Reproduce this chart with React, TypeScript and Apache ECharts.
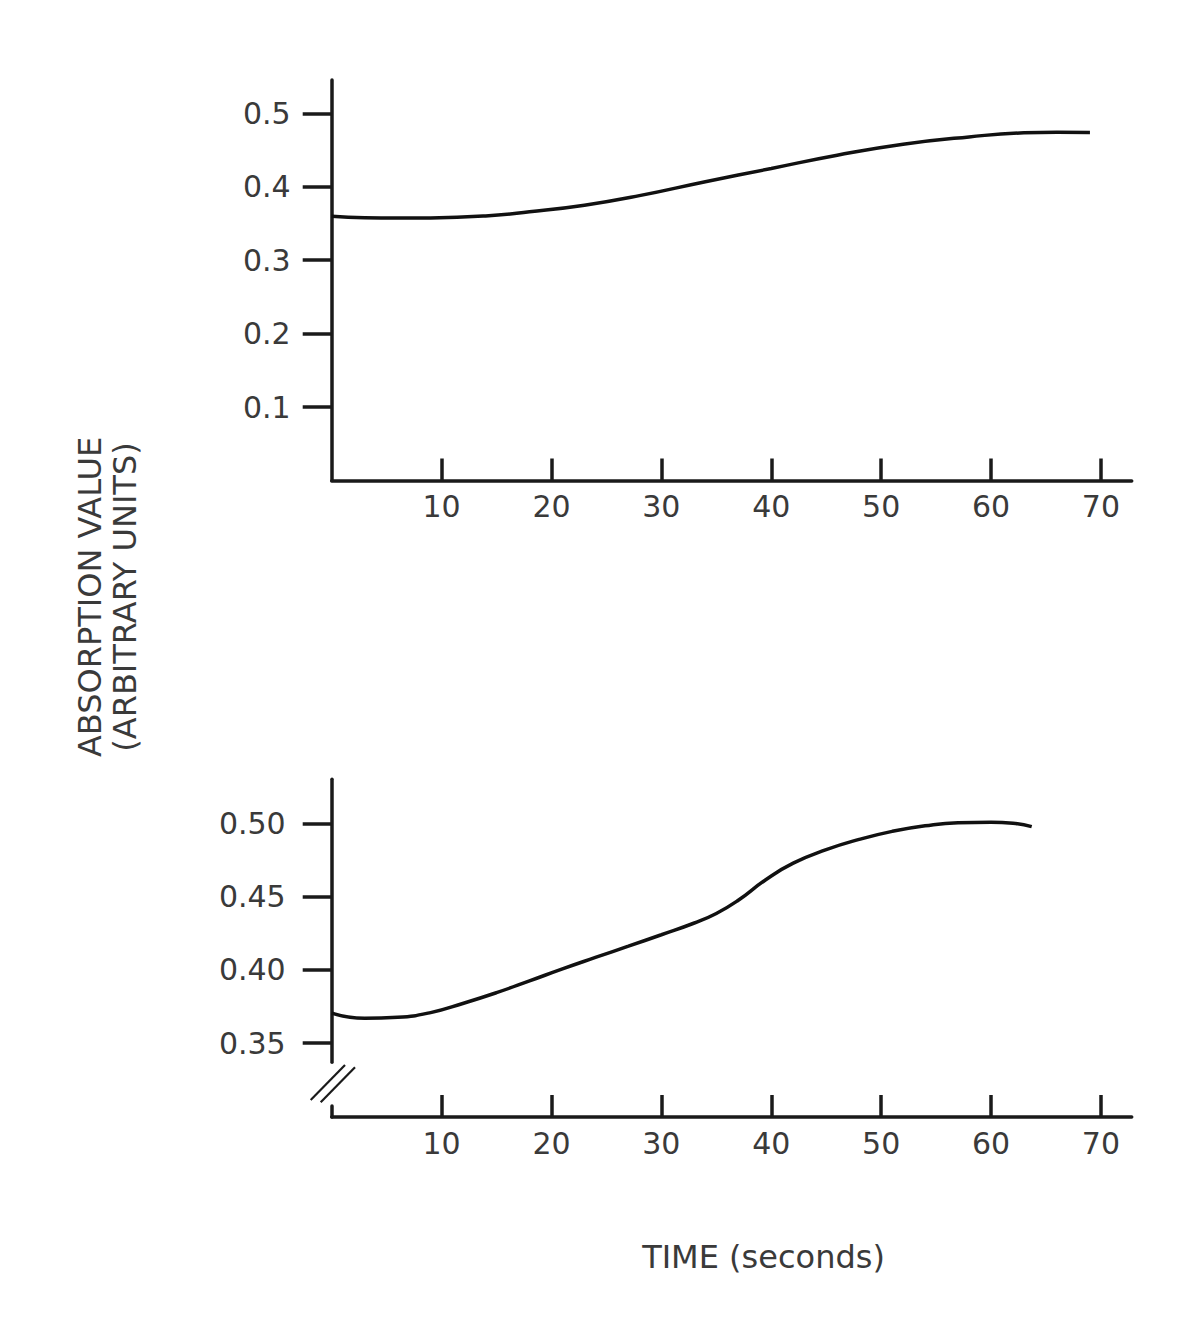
import React, { useEffect, useRef } from "react";
import * as echarts from "echarts";

const xTicks = [10, 20, 30, 40, 50, 60, 70];
const topYTicks = [0.1, 0.2, 0.3, 0.4, 0.5];
const bottomYTicks = [0.35, 0.4, 0.45, 0.5];

const topTime = [0, 3, 6, 9, 14, 18, 23, 28, 34, 40, 46, 52, 58, 63, 66, 69];
const topValue = [0.36, 0.3578, 0.3575, 0.3577, 0.3604, 0.366, 0.375, 0.388, 0.407, 0.425, 0.443, 0.458, 0.468, 0.4735, 0.4742, 0.474];

const bottomTime = [0, 3, 6, 9, 12, 15, 18, 21, 24, 27, 30, 33, 35, 37, 39.5, 42, 45, 48, 51, 54, 57, 60, 62, 63.7];
const bottomValue = [0.3705, 0.367, 0.3677, 0.3709, 0.3773, 0.3845, 0.3925, 0.4007, 0.4085, 0.4162, 0.424, 0.432, 0.4385, 0.4475, 0.4615, 0.4728, 0.482, 0.489, 0.4945, 0.4983, 0.5004, 0.5007, 0.5, 0.4977];

const yTitle = "ABSORPTION VALUE\n(ARBITRARY UNITS)";
const xTitle = "TIME (seconds)";

const FONT = "DejaVu Sans";
const TEXT = "#3a3a3a";
const INK = "#1a1a1a";

export default function App() {
  const ref = useRef<HTMLDivElement>(null);
  useEffect(() => {
    if (!ref.current) return;
    const chart = echarts.init(ref.current, null, { renderer: "svg" });
    const xMin = 0;
    const xMax = 72.8;
    const axisLine = { show: true, lineStyle: { color: INK, width: 3.5 } };
    const xLabel = { show: true, customValues: xTicks, margin: 11, fontSize: 30, color: TEXT, fontFamily: FONT };
    const xTick = { show: true, customValues: xTicks, inside: true, length: 22, lineStyle: { color: INK, width: 3.5 } };

    const option: any = {
      animation: false,
      backgroundColor: "#ffffff",
      grid: [
        { left: 331.7, top: 80, width: 800, height: 400.5 },
        { left: 331.7, top: 779.3, width: 800, height: 283 },
        { left: 331.7, top: 1106, width: 800, height: 11 },
      ],
      xAxis: [
        { type: "value", gridIndex: 0, min: xMin, max: xMax, axisLine, axisTick: xTick, axisLabel: xLabel, splitLine: { show: false } },
        { type: "value", gridIndex: 1, min: xMin, max: xMax, show: false, splitLine: { show: false } },
        { type: "value", gridIndex: 2, min: xMin, max: xMax, axisLine, axisTick: xTick, axisLabel: xLabel, splitLine: { show: false } },
      ],
      yAxis: [
        {
          type: "value", gridIndex: 0, min: 0, max: 0.5455,
          axisLine,
          axisTick: { show: true, customValues: topYTicks, inside: false, length: 29, lineStyle: { color: INK, width: 3.5 } },
          axisLabel: { show: true, customValues: topYTicks, margin: 41, fontSize: 30, color: TEXT, fontFamily: FONT, formatter: (v: number) => v.toFixed(1) },
          splitLine: { show: false },
        },
        {
          type: "value", gridIndex: 1, min: 0.337, max: 0.53,
          axisLine,
          axisTick: { show: true, customValues: bottomYTicks, inside: false, length: 29, lineStyle: { color: INK, width: 3.5 } },
          axisLabel: { show: true, customValues: bottomYTicks, margin: 46, fontSize: 30, color: TEXT, fontFamily: FONT, formatter: (v: number) => v.toFixed(2) },
          splitLine: { show: false },
        },
        {
          type: "value", gridIndex: 2, min: 0, max: 1,
          axisLine,
          axisTick: { show: false },
          axisLabel: { show: false },
          splitLine: { show: false },
        },
      ],
      series: [
        {
          type: "line", xAxisIndex: 0, yAxisIndex: 0, smooth: 0.5, symbol: "none",
          lineStyle: { color: "#111111", width: 3.5 },
          data: topTime.map((t, i) => [t, topValue[i]]),
        },
        {
          type: "line", xAxisIndex: 1, yAxisIndex: 1, smooth: 0.5, symbol: "none",
          lineStyle: { color: "#111111", width: 3.5 },
          data: bottomTime.map((t, i) => [t, bottomValue[i]]),
        },
      ],
      graphic: [
        { type: "line", shape: { x1: 310.7, y1: 1100, x2: 345, y2: 1065 }, style: { stroke: INK, lineWidth: 2.2 } },
        { type: "line", shape: { x1: 320.7, y1: 1102.3, x2: 355, y2: 1067.3 }, style: { stroke: INK, lineWidth: 2.2 } },
        {
          type: "text", x: 107, y: 597, rotation: Math.PI / 2,
          style: { text: yTitle, align: "center", verticalAlign: "middle", fontSize: 32, lineHeight: 35, fontFamily: FONT, fill: TEXT },
        },
        {
          type: "text", x: 763.5, y: 1257,
          style: { text: xTitle, align: "center", verticalAlign: "middle", fontSize: 32, fontFamily: FONT, fill: TEXT },
        },
      ],
    };
    chart.setOption(option);
    return () => chart.dispose();
  }, []);
  return <div ref={ref} style={{ position: "absolute", left: 0, top: 0, width: 1195, height: 1329 }} />;
}
